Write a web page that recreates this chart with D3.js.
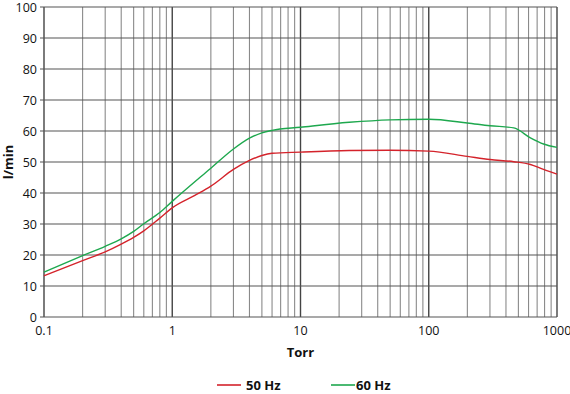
<!DOCTYPE html>
<html>
<head>
<meta charset="utf-8">
<script src="https://cdn.jsdelivr.net/npm/d3@7"></script>
<style>
  body { margin: 0; background: #fff; }
  text { font-family: "Open Sans", "Noto Sans", sans-serif; fill: #111; }
</style>
</head>
<body>
<svg id="chart"></svg>
<script>
const width = 570;
const height = 394;
const margin = { left: 44, right: 13, top: 7, bottom: 77 };

// pressure (Torr) and flow (l/min)
const torr50 = [0.1, 0.2, 0.3, 0.4, 0.5, 0.6, 0.8, 1, 1.5, 2, 3, 4, 5, 6, 10, 24, 50, 100, 200, 300, 460, 620, 785, 1000];
const flow50 = [13.3, 18.2, 21, 23.5, 25.7, 27.8, 31.9, 35.2, 39.2, 42.2, 47.6, 50.5, 52.1, 52.8, 53.2, 53.7, 53.8, 53.5, 51.8, 50.8, 50.1, 49.2, 47.6, 46.1];
const torr60 = [0.1, 0.2, 0.3, 0.4, 0.5, 0.6, 0.8, 1, 2, 3, 4, 5, 6, 10, 24, 50, 100, 200, 300, 460, 620, 785, 1000];
const flow60 = [14.5, 19.8, 22.8, 25.2, 27.6, 30.1, 33.7, 37.3, 48, 54.2, 57.7, 59.4, 60.2, 61.2, 62.8, 63.6, 63.8, 62.6, 61.7, 61, 57.8, 55.8, 54.7];
const seriesNames = ['50 Hz', '60 Hz'];
const seriesColors = ['#d4232b', '#1ea84e'];
const yTicks = [0, 10, 20, 30, 40, 50, 60, 70, 80, 90, 100];
const xTickLabels = ['0.1', '1', '10', '100', '1000'];

const visWidth = width - margin.left - margin.right;
const visHeight = height - margin.top - margin.bottom;

const svg = d3.select('svg#chart').attr('width', width).attr('height', height);
const g = svg.append('g').attr('transform', 'translate(' + margin.left + ',' + margin.top + ')');

const xScale = d3.scaleLog().domain([0.1, 1000]).range([0, visWidth]);
const yScale = d3.scaleLinear().domain([0, 100]).range([visHeight, 0]);

// grid: horizontal every 10, vertical every log step
const xGrid = xScale.ticks();
g.append('g').selectAll('line').data(xGrid).enter().append('line')
  .attr('x1', d => xScale(d)).attr('x2', d => xScale(d))
  .attr('y1', 0).attr('y2', visHeight)
  .attr('stroke', d => xTickLabels.includes(String(d)) ? '#444' : '#8a8a8a')
  .attr('stroke-width', d => xTickLabels.includes(String(d)) ? 1.4 : 1.1);

g.append('g').selectAll('line').data(yTicks).enter().append('line')
  .attr('x1', -4).attr('x2', visWidth)
  .attr('y1', d => yScale(d)).attr('y2', d => yScale(d))
  .attr('stroke', '#555').attr('stroke-width', 1.1);

// axes labels
g.append('g').selectAll('text').data(yTicks).enter().append('text')
  .attr('x', -7).attr('y', d => yScale(d) + 5)
  .attr('text-anchor', 'end').attr('font-size', 12.5)
  .text(d => d);

g.append('g').selectAll('text').data(xTickLabels).enter().append('text')
  .attr('x', d => xScale(+d)).attr('y', visHeight + 18)
  .attr('text-anchor', 'middle').attr('font-size', 12.5)
  .text(d => d);

svg.append('text')
  .attr('x', margin.left + visWidth / 2).attr('y', 357)
  .attr('text-anchor', 'middle').attr('font-size', 13).attr('font-weight', 'bold')
  .text('Torr');

svg.append('text')
  .attr('transform', 'translate(13,' + (margin.top + visHeight / 2) + ') rotate(-90)')
  .attr('text-anchor', 'middle').attr('font-size', 13).attr('font-weight', 'bold')
  .text('l/min');

// curves
const line = d3.line()
  .x(d => xScale(d[0]))
  .y(d => yScale(d[1]))
  .curve(d3.curveMonotoneX);

const series = [d3.zip(torr50, flow50), d3.zip(torr60, flow60)];
g.selectAll('path.curve').data(series).enter().append('path')
  .attr('class', 'curve')
  .attr('d', line)
  .attr('fill', 'none')
  .attr('stroke', (d, i) => seriesColors[i])
  .attr('stroke-width', 1.4);

// legend
const legend = svg.append('g');
const legendX = [217, 331];
seriesNames.forEach((name, i) => {
  legend.append('line')
    .attr('x1', legendX[i]).attr('x2', legendX[i] + 24)
    .attr('y1', 385).attr('y2', 385)
    .attr('stroke', seriesColors[i]).attr('stroke-width', 1.6);
  legend.append('text')
    .attr('x', legendX[i] + (i === 0 ? 29 : 25)).attr('y', 390)
    .attr('font-size', 13).attr('font-weight', 'bold')
    .text(name);
});
</script>
</body>
</html>
